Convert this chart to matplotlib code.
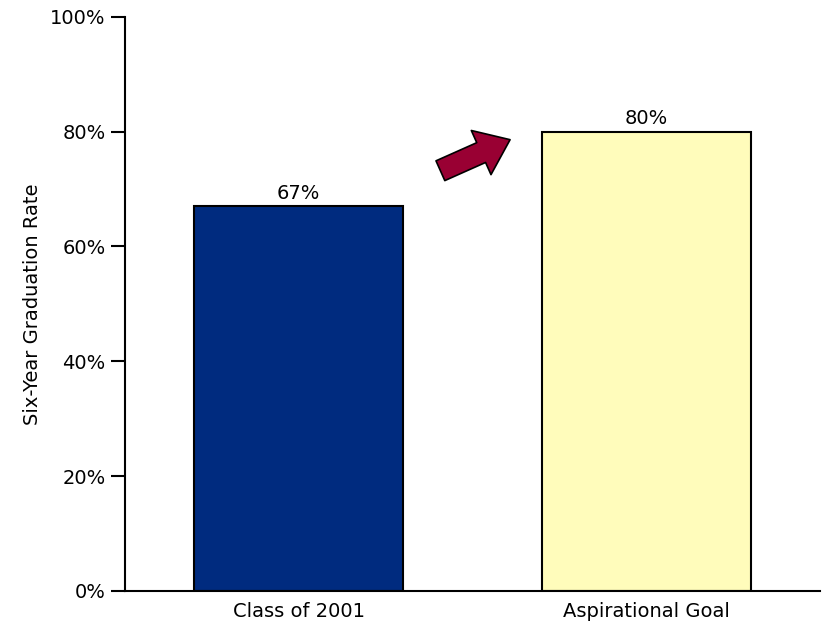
import matplotlib
matplotlib.use("Agg")
import matplotlib.pyplot as plt
from matplotlib.patches import FancyArrowPatch
from matplotlib.ticker import FuncFormatter

categories = ["Class of 2001", "Aspirational Goal"]
rates = [67, 80]
bar_colors = ["#002B7F", "#FFFCBB"]

plt.rc("font", family="DejaVu Sans", size=14)

fig = plt.figure(figsize=(8.27, 6.24), dpi=100)
ax = fig.add_axes([0.151, 0.053, 0.841, 0.920])

x = list(range(len(categories)))
ax.bar(x, rates, width=0.6, color=bar_colors, edgecolor="black", linewidth=1.5, zorder=2)

for xi, r in zip(x, rates):
    ax.text(xi, r + 0.6, "%d%%" % r, ha="center", va="bottom", fontsize=14)

ax.set_xlim(-0.5, 1.5)
ax.set_ylim(0, 100)
ax.set_xticks(x)
ax.set_xticklabels(categories)
ax.set_yticks(range(0, 101, 20))
ax.yaxis.set_major_formatter(FuncFormatter(lambda v, p: "%d%%" % v))
ax.set_ylabel("Six-Year Graduation Rate", fontsize=14, labelpad=6)

ax.spines["top"].set_visible(False)
ax.spines["right"].set_visible(False)
ax.spines["left"].set_linewidth(1.5)
ax.spines["bottom"].set_linewidth(1.5)
ax.tick_params(axis="y", direction="out", length=10, width=1.5, pad=4)
ax.tick_params(axis="x", length=0, pad=8)

# arrow pointing up toward the goal
arrow = FancyArrowPatch((0.40, 73.0), (0.615, 78.8),
                        arrowstyle="simple,head_width=2.9,head_length=1.9,tail_width=1.3",
                        mutation_scale=12, facecolor="#990033", edgecolor="black",
                        linewidth=1.2, zorder=3)
ax.add_patch(arrow)

fig.savefig("out.png", dpi=100)
